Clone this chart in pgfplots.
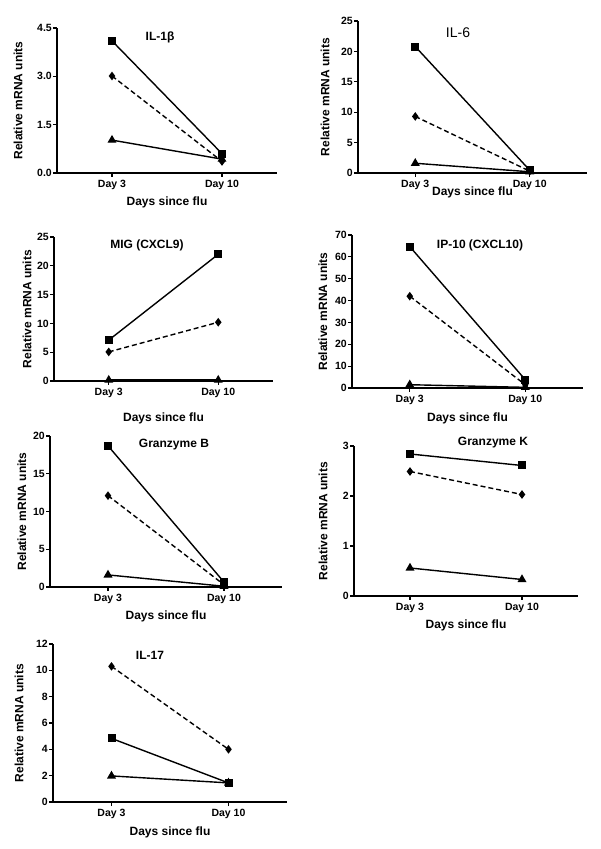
\documentclass[border=0pt]{standalone}
\usepackage{fontspec}
\setmainfont{Liberation Sans}
\usepackage{pgfplots}
\pgfplotsset{compat=1.18}

\pgfplotsset{
  panel/.style={
    scale only axis,
    axis x line=bottom, axis y line=left,
    axis line style={-, line width=1.4pt},
    xmin=0.5, xmax=2.5, ymin=0,
    xtick={1,2}, xticklabels={Day 3, Day 10},
    tick align=outside, major tick length=4pt,
    tick style={line width=1.2pt, black},
    /pgf/number format/assume math mode=true,
    x tick label style={font=\bfseries\fontsize{10.5}{12}\selectfont},
    y tick label style={font=\bfseries\fontsize{10.5}{12}\selectfont, inner sep=1pt},
    xlabel={Days since flu}, ylabel={Relative mRNA units},
    label style={font=\bfseries\fontsize{12}{14}\selectfont},
    clip=false,
  },
  sq/.style={black, line width=1.4pt, mark=square*, mark size=3.3pt, mark options={solid}},
  dm/.style={black, line width=1.4pt, dash pattern=on 5pt off 3pt, mark=diamond*, mark size=3.2pt, mark options={solid}},
  tr/.style={black, line width=1.4pt, mark=triangle*, mark size=3.8pt, mark options={solid}},
}

\begin{document}
\begin{tikzpicture}[x=1pt,y=1pt]
\useasboundingbox (0,0) rectangle (600,849);

% IL-1beta
\begin{axis}[panel, at={(57pt,676pt)}, anchor=south west, width=220pt, height=145pt,
  ymax=4.5, ytick={0,1.5,3,4.5},
  yticklabel style={/pgf/number format/.cd, fixed, fixed zerofill, precision=1},
  ylabel style={at={(axis description cs:-0.177,0.5)}, anchor=center},
  xlabel style={at={(axis description cs:0.5,-0.2)}, anchor=center}]
\addplot[sq] coordinates {(1,4.10) (2,0.60)};
\addplot[dm] coordinates {(1,3.01) (2,0.36)};
\addplot[tr] coordinates {(1,1.02) (2,0.43)};
\end{axis}

% IL-6
\begin{axis}[panel, at={(358pt,676pt)}, anchor=south west, width=229pt, height=152pt,
  ymax=25, ytick={0,5,...,25},
  ylabel style={at={(axis description cs:-0.144,0.5)}, anchor=center},
  xlabel style={at={(axis description cs:0.5,-0.13)}, anchor=center}]
\addplot[sq] coordinates {(1,20.8) (2,0.45)};
\addplot[dm] coordinates {(1,9.3) (2,0.3)};
\addplot[tr] coordinates {(1,1.6) (2,0.2)};
\end{axis}

% MIG
\begin{axis}[panel, at={(54pt,468pt)}, anchor=south west, width=219pt, height=144pt,
  ymax=25, ytick={0,5,...,25},
  ylabel style={at={(axis description cs:-0.123,0.5)}, anchor=center},
  xlabel style={at={(axis description cs:0.5,-0.26)}, anchor=center}]
\addplot[sq] coordinates {(1,7.1) (2,22.0)};
\addplot[dm] coordinates {(1,5.05) (2,10.2)};
\addplot[tr] coordinates {(1,0.15) (2,0.15)};
\end{axis}

% IP-10
\begin{axis}[panel, at={(352pt,461pt)}, anchor=south west, width=231pt, height=153pt,
  ymax=70, ytick={0,10,...,70},
  ylabel style={at={(axis description cs:-0.126,0.5)}, anchor=center},
  xlabel style={at={(axis description cs:0.5,-0.2)}, anchor=center}]
\addplot[sq] coordinates {(1,64.7) (2,3.8)};
\addplot[dm] coordinates {(1,42.0) (2,1.5)};
\addplot[tr] coordinates {(1,1.5) (2,0.3)};
\end{axis}

% Granzyme B
\begin{axis}[panel, at={(50pt,262pt)}, anchor=south west, width=232pt, height=151pt,
  ymax=20, ytick={0,5,...,20},
  ylabel style={at={(axis description cs:-0.121,0.5)}, anchor=center},
  xlabel style={at={(axis description cs:0.5,-0.198)}, anchor=center}]
\addplot[sq] coordinates {(1,18.7) (2,0.65)};
\addplot[dm] coordinates {(1,12.1) (2,0.3)};
\addplot[tr] coordinates {(1,1.6) (2,0.1)};
\end{axis}

% Granzyme K
\begin{axis}[panel, at={(354pt,253pt)}, anchor=south west, width=224pt, height=150pt,
  ymax=3, ytick={0,1,2,3},
  ylabel style={at={(axis description cs:-0.138,0.5)}, anchor=center},
  xlabel style={at={(axis description cs:0.5,-0.193)}, anchor=center}]
\addplot[sq] coordinates {(1,2.84) (2,2.61)};
\addplot[dm] coordinates {(1,2.49) (2,2.03)};
\addplot[tr] coordinates {(1,0.56) (2,0.33)};
\end{axis}

% IL-17
\begin{axis}[panel, at={(53pt,47pt)}, anchor=south west, width=234pt, height=158pt,
  ymax=12, ytick={0,2,...,12},
  ylabel style={at={(axis description cs:-0.145,0.5)}, anchor=center},
  xlabel style={at={(axis description cs:0.5,-0.19)}, anchor=center}]
\addplot[sq] coordinates {(1,4.83) (2,1.45)};
\addplot[dm] coordinates {(1,10.3) (2,4.0)};
\addplot[tr] coordinates {(1,1.98) (2,1.45)};
\end{axis}

% panel titles
\begin{scope}[every node/.style={font=\bfseries\fontsize{12}{14}\selectfont}]
\node at (160,812) {IL-1β};
\node at (147,604) {MIG (CXCL9)};
\node at (480,604) {IP-10 (CXCL10)};
\node at (174,404) {Granzyme B};
\node at (493,406) {Granzyme K};
\node at (150,194) {IL-17};
\end{scope}
\node[font=\fontsize{14}{16}\selectfont] at (458,816) {IL-6};
\end{tikzpicture}
\end{document}
